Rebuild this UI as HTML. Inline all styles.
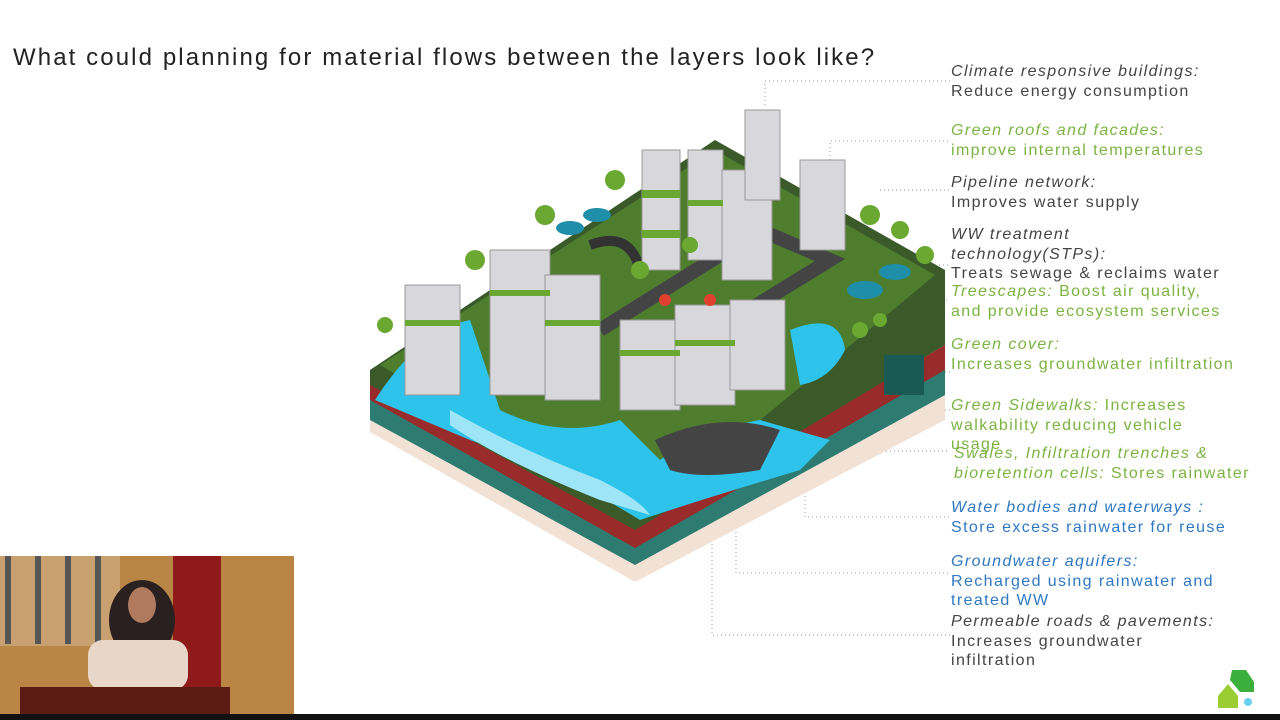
<!DOCTYPE html>
<html><head><meta charset="utf-8"><style>
body{margin:0;width:1280px;height:720px;background:#fff;position:relative;overflow:hidden;font-family:"Liberation Sans",sans-serif}
.t{position:absolute;left:13px;top:44px;font-size:24px;color:#222;letter-spacing:2.1px}
.l{position:absolute;left:951px;font-size:16px;line-height:19.5px;letter-spacing:1.4px;white-space:nowrap}
.l i{font-style:italic}
.g{color:#7cb342}.k{color:#444}.b{color:#2f78c2}
</style></head><body>
<div class="t">What could planning for material flows between the layers look like?</div>
<svg width="1280" height="720" style="position:absolute;left:0;top:0">
<g stroke="#999" stroke-dasharray="1,3" fill="none">
<polyline points="765,105 765,81 950,81"/><polyline points="830,160 830,141 950,141"/>
<polyline points="880,190 950,190"/><polyline points="915,265 950,265"/>
<polyline points="930,300 950,300"/><polyline points="905,372 950,372"/>
<polyline points="845,410 950,410"/><polyline points="830,451 950,451"/>
<polyline points="805,400 805,517 950,517"/><polyline points="736,480 736,573 950,573"/>
<polyline points="712,480 712,635 950,635"/>
</g>
<polygon points="370,410 635,560 945,380 945,420 635,582 370,432" fill="#f2e2d6"/>
<polygon points="370,395 635,545 945,365 945,395 635,565 370,420" fill="#2e7b72"/>
<polygon points="370,380 635,528 945,345 945,370 635,548 370,400" fill="#9a2b2b"/>
<polygon points="370,370 715,140 945,270 945,345 635,530 370,385" fill="#3a5a2a"/>
<polygon points="380,365 715,150 935,275 640,520" fill="#4e7d2e"/>
<path d="M375,400 Q420,330 470,320 L500,410 Q560,440 620,420 L660,460 Q700,430 760,420 L830,440 L800,470 Q700,500 640,520 Q560,470 470,440 Z" fill="#2ec3ea"/>
<path d="M450,410 Q520,450 600,480 Q640,500 650,515 L600,500 Q500,460 450,425 Z" fill="#9ee6f7"/>
<path d="M790,330 Q840,310 845,350 Q830,380 800,385 Z" fill="#2ec3ea"/>
<path d="M655,440 Q720,410 780,430 L760,470 Q700,480 670,470 Z" fill="#444"/>
<path d="M590,245 Q630,230 640,270" stroke="#333" stroke-width="10" fill="none"/>
<path d="M600,330 L760,230 L830,260 L700,340" stroke="#444" stroke-width="14" fill="none"/>
<g fill="#d8d8dc" stroke="#999" stroke-width="1">
<rect x="405" y="285" width="55" height="110"/><rect x="490" y="250" width="60" height="145"/>
<rect x="545" y="275" width="55" height="125"/><rect x="620" y="320" width="60" height="90"/>
<rect x="675" y="305" width="60" height="100"/><rect x="730" y="300" width="55" height="90"/>
<rect x="642" y="150" width="38" height="120"/><rect x="688" y="150" width="35" height="110"/>
<rect x="722" y="170" width="50" height="110"/><rect x="745" y="110" width="35" height="90"/>
<rect x="800" y="160" width="45" height="90"/>
</g>
<g fill="#6aa832">
<rect x="405" y="320" width="55" height="6"/><rect x="490" y="290" width="60" height="6"/><rect x="545" y="320" width="55" height="6"/>
<rect x="642" y="190" width="38" height="8"/><rect x="642" y="230" width="38" height="8"/><rect x="688" y="200" width="35" height="6"/>
<rect x="620" y="350" width="60" height="6"/><rect x="675" y="340" width="60" height="6"/>
<circle cx="545" cy="215" r="10"/><circle cx="475" cy="260" r="10"/><circle cx="385" cy="325" r="8"/><circle cx="615" cy="180" r="10"/>
<circle cx="870" cy="215" r="10"/><circle cx="900" cy="230" r="9"/><circle cx="925" cy="255" r="9"/><circle cx="640" cy="270" r="9"/><circle cx="690" cy="245" r="8"/>
<circle cx="860" cy="330" r="8"/><circle cx="880" cy="320" r="7"/>
</g>
<g fill="#e04030"><circle cx="665" cy="300" r="6"/><circle cx="710" cy="300" r="6"/></g>
<g fill="#1f8ea8"><ellipse cx="570" cy="228" rx="14" ry="7"/><ellipse cx="597" cy="215" rx="14" ry="7"/><ellipse cx="865" cy="290" rx="18" ry="9"/><ellipse cx="895" cy="272" rx="16" ry="8"/></g>
<rect x="884" y="355" width="40" height="40" fill="#1a5a55"/>
<rect x="0" y="556" width="294" height="164" fill="#b98545"/>
<rect x="0" y="556" width="120" height="90" fill="#c9a170"/>
<g fill="#555"><rect x="5" y="556" width="6" height="88"/><rect x="35" y="556" width="6" height="88"/><rect x="65" y="556" width="6" height="88"/><rect x="95" y="556" width="6" height="88"/></g>
<rect x="173" y="556" width="48" height="135" fill="#8e1a1a"/>
<ellipse cx="142" cy="620" rx="33" ry="40" fill="#2a2020"/>
<ellipse cx="142" cy="605" rx="14" ry="18" fill="#b07a5e"/>
<rect x="88" y="640" width="100" height="50" rx="15" fill="#e8d6c8"/>
<rect x="20" y="687" width="210" height="33" fill="#5a1c12"/>
<rect x="0" y="714" width="1280" height="6" fill="#111"/>
<polygon points="1232,670 1246,670 1254,682 1254,692 1240,692 1230,680" fill="#3cae3c"/>
<polygon points="1218,696 1228,684 1238,696 1238,708 1218,708" fill="#9acd32"/>
<circle cx="1248" cy="702" r="4" fill="#6ad0f0"/>
</svg>
<div class="l k" style="top:62px"><i>Climate responsive buildings:</i><br>Reduce energy consumption</div>
<div class="l g" style="top:121px"><i>Green roofs and facades:</i><br>improve internal temperatures</div>
<div class="l k" style="top:173px"><i>Pipeline network:</i><br>Improves water supply</div>
<div class="l k" style="top:225px"><i>WW treatment<br>technology(STPs):</i><br>Treats sewage &amp; reclaims water</div>
<div class="l g" style="top:282px"><i>Treescapes:</i> Boost air quality,<br>and provide ecosystem services</div>
<div class="l g" style="top:335px"><i>Green cover:</i><br>Increases groundwater infiltration</div>
<div class="l g" style="top:396px"><i>Green Sidewalks:</i> Increases<br>walkability reducing vehicle<br>usage</div>
<div class="l g" style="top:444px;left:954px"><i>Swales, Infiltration trenches &amp;<br>bioretention cells:</i> Stores rainwater</div>
<div class="l b" style="top:498px"><i>Water bodies and waterways :</i><br>Store excess rainwater for reuse</div>
<div class="l b" style="top:552px"><i>Groundwater aquifers:</i><br>Recharged using rainwater and<br>treated WW</div>
<div class="l k" style="top:612px"><i>Permeable roads &amp; pavements:</i><br>Increases groundwater<br>infiltration</div>
</body></html>
